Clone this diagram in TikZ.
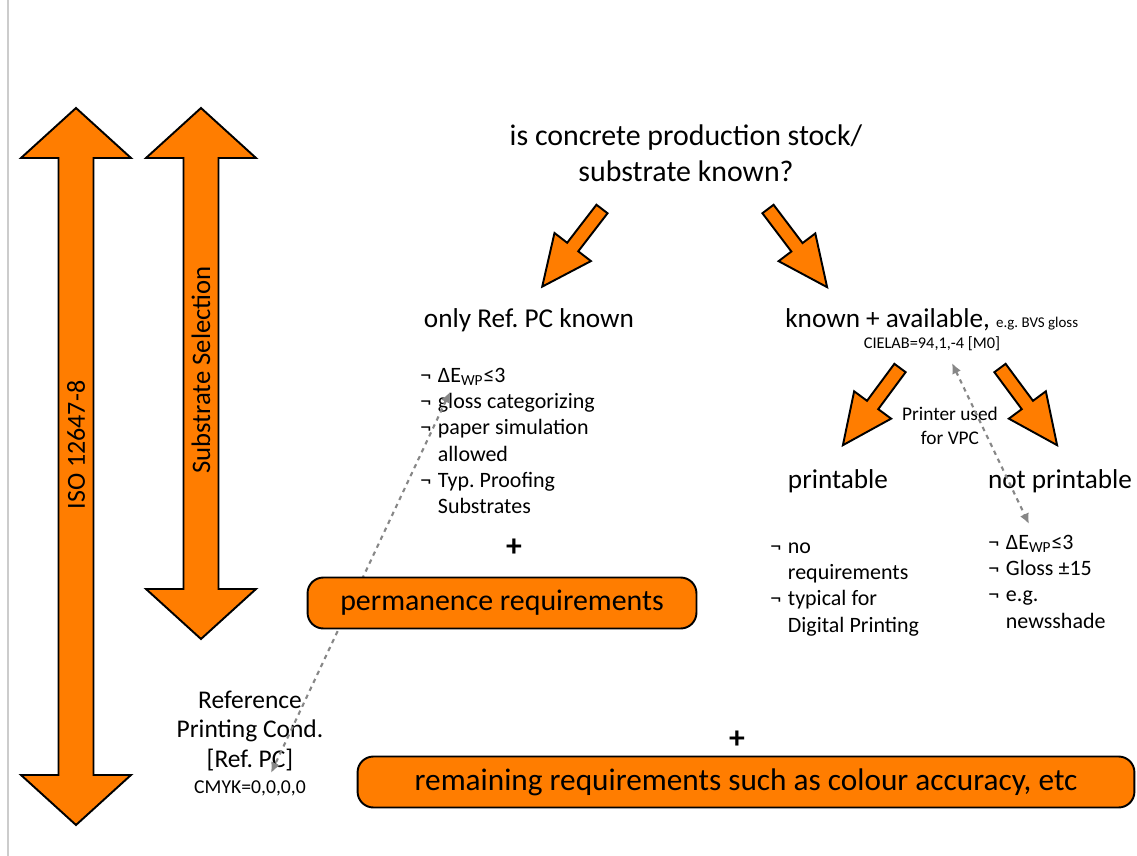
\documentclass[tikz,border=0pt]{standalone}
\usepackage{fontspec}
\setmainfont{Carlito}
\usepackage{tikz}
\usetikzlibrary{%
  arrows.meta,
  calc
}

\definecolor{keyorange}{RGB}{255,125,0}
\definecolor{linkgray}{RGB}{135,135,135}

\newcommand{\negitem}{\makebox[0.8em][l]{¬}}
\frenchspacing

\tikzset{
  pics/blockarrow/.style={code={
    \draw[line width=1.1pt, fill=keyorange]
      (0,-7) -- (#1-50,-7) -- (#1-50,-23) -- (#1,0) -- (#1-50,23) -- (#1-50,7) -- (0,7) -- cycle;
  }},
  pics/dblarrow/.style={code={
    \draw[line width=1.1pt, fill=keyorange]
      (0,0) -- (50,-55) -- (50,-17.5) -- (#1-50,-17.5) -- (#1-50,-55) -- (#1,0)
      -- (#1-50,55) -- (#1-50,17.5) -- (50,17.5) -- (50,55) -- cycle;
  }}
}

\begin{document}
\begin{tikzpicture}[x=0.02cm, y=-0.02cm,
    head/.style={font=\fontsize{15.5}{20.4}\selectfont, inner sep=0pt},
    item/.style={font=\fontsize{12.5}{15}\selectfont, execute at begin node={\spaceskip=2.9pt\relax},
      inner sep=0pt, align=left, anchor=base west},
    note/.style={font=\fontsize{9.3}{10}\selectfont, inner sep=0pt},
    reqbox/.style={draw, line width=1.1pt, fill=keyorange, rounded corners=9pt, inner sep=0pt,
      minimum height=1.02cm, font=\fontsize{17}{19}\selectfont},
    link/.style={draw=linkgray, line width=1.2pt, dash pattern=on 2.5pt off 2.5pt,
      {Latex[length=6pt,width=5.5pt]}-{Latex[length=6pt,width=5.5pt]}}
  ]
    \useasboundingbox (0,0) rectangle (1137,856);
    \draw[gray!40, line width=0.8pt] (8,0) -- (8,856);

    \pic[rotate=-90] at (76,108) {dblarrow=717};
    \pic[rotate=-90] at (201,108) {dblarrow=531};
    \node[rotate=90, font=\fontsize{14.8}{16}\selectfont] (iso) at (76,445) {ISO 12647-8};
    \node[rotate=90, font=\fontsize{15.2}{16}\selectfont] (subsel) at (201,370) {Substrate Selection};

    \node[head, font=\fontsize{17}{20.4}\selectfont, align=center] (question) at (686,153) {is concrete production stock/\\substrate known?};

    \foreach \px/\py/\ang/\len in {602/209/232.4/98, 768/209/307.1/98, 900/368/233.5/96, 1000/368/306.5/96} {
        \pic[rotate=\ang] at (\px,\py) {blockarrow=\len};
    }

    \node[head, anchor=base] (onlyref) at (529,327) {only Ref. PC known};
    \node[head, anchor=base west] (known) at (785,327) {known + available, {\fontsize{8.5}{10}\selectfont e.g. BVS gloss}};
    \node[note, anchor=base] (cielab) at (932,348) {CIELAB=94,1,-4 [M0]};
    \node[font=\fontsize{11}{13.6}\selectfont, align=center, inner sep=0pt] (vpc) at (950,426) {Printer used\\for VPC};

    \node[head, anchor=base] (printable) at (838,488) {printable};
    \node[head, anchor=base] (notprint) at (1060,488) {not printable};

    \node[item, text width=4.4cm] (reflist) at (420,382) {\negitem ΔE\textsubscript{WP}≤3\\
        \negitem gloss categorizing\\ \negitem paper simulation\\ \hspace*{0.8em}allowed\\
        \negitem Typ. Proofing\\ \hspace*{0.8em}Substrates};
    \node[item, text width=3.2cm] (printlist) at (770,553) {\negitem no\\ \hspace*{0.8em}requirements\\
        \negitem typical for\\ \hspace*{0.8em}Digital Printing};
    \node[item, text width=2.8cm] (notlist) at (988,549) {\negitem ΔE\textsubscript{WP}≤3\\
        \negitem Gloss ±15\\ \negitem e.g.\\ \hspace*{0.8em}newsshade};

    \node[font=\fontsize{18}{18}\selectfont\bfseries, inner sep=0pt] (plusa) at (514,548) {+};
    \node[font=\fontsize{18}{18}\selectfont\bfseries, inner sep=0pt] (plusb) at (737,740) {+};

    \node[font=\fontsize{14.5}{17}\selectfont, execute at begin node={\spaceskip=3.3pt\relax},
        align=center, text width=3.8cm, anchor=base, inner sep=0pt] (refpc)
        at (250,708) {Reference\\ Printing Cond.\\{}[Ref. PC]\\[-2.5pt]{\fontsize{11.2}{12}\selectfont CMYK=0,0,0,0}};

    \coordinate (detip) at (450,392);
    \coordinate (pctip) at (271,773);
    \coordinate (labtip) at (952,363);
    \coordinate (wptip) at (1029,524);
    \draw[link] (detip) -- (pctip);
    \draw[link] (labtip) -- (wptip);

    \node[reqbox, minimum width=7.78cm] (perm) at (502,603) {permanence requirements};
    \node[reqbox, minimum width=15.54cm, font=\fontsize{17.8}{19}\selectfont] (remain) at (746,782) {remaining requirements such as colour accuracy, etc};
\end{tikzpicture}
\end{document}
